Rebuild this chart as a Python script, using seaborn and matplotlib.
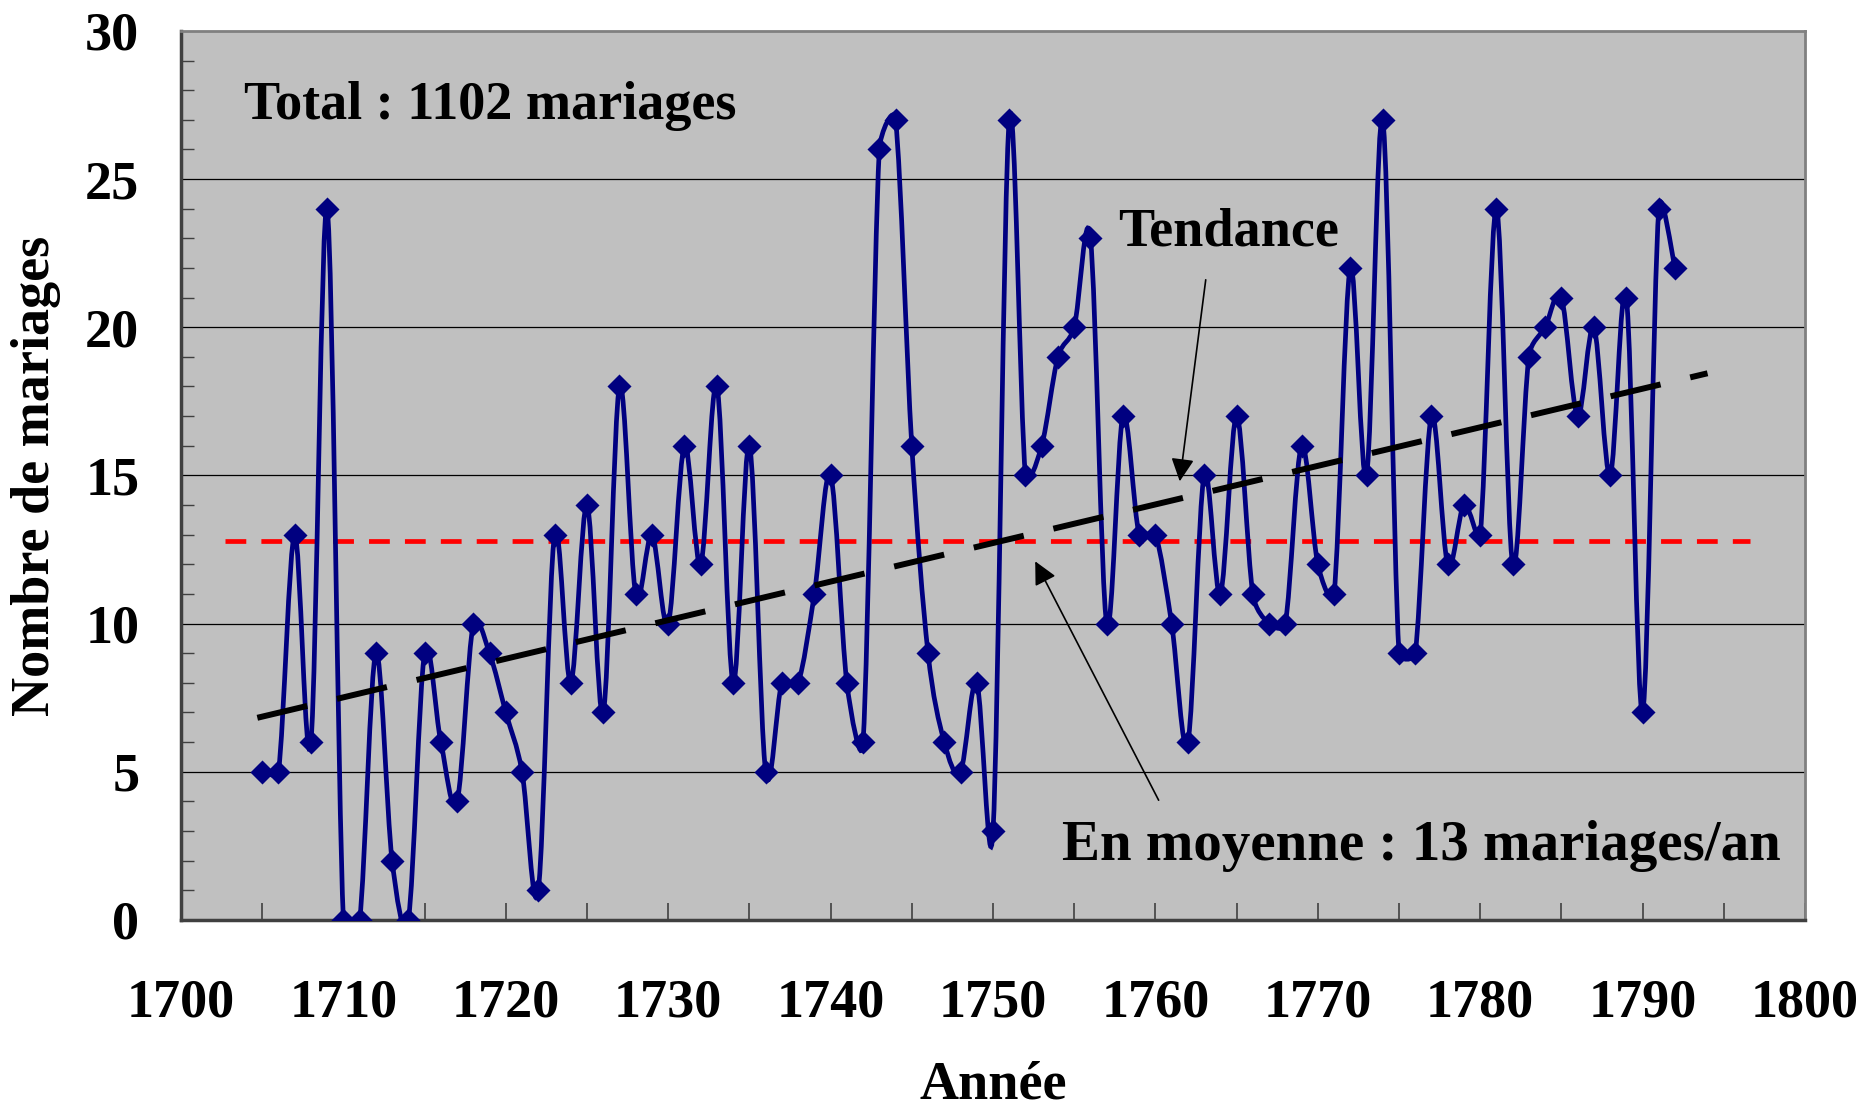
import numpy as np
import matplotlib
matplotlib.use('Agg')
import matplotlib.pyplot as plt
from matplotlib.path import Path
from matplotlib.patches import PathPatch
from matplotlib.ticker import MultipleLocator
import pandas as pd
import seaborn as sns

# nombre de mariages par an (1705-1792)
annees = list(range(1705, 1793))
mariages = [5, 5, 13, 6, 24, 0, 0, 9, 2, 0,
            9, 6, 4, 10, 9, 7, 5, 1, 13, 8,
            14, 7, 18, 11, 13, 10, 16, 12, 18, 8,
            16, 5, 8, 8, 11, 15, 8, 6, 26, 27,
            16, 9, 6, 5, 8, 3, 27, 15, 16, 19,
            20, 23, 10, 17, 13, 13, 10, 6, 15, 11,
            17, 11, 10, 10, 16, 12, 11, 22, 15, 27,
            9, 9, 17, 12, 14, 13, 24, 12, 19, 20,
            21, 17, 20, 15, 21, 7, 24, 22]
moyenne = 12.8
moyenne_debut, moyenne_fin = 1702.7, 1796.6
tendance_debut, tendance_fin = 1704.7, 1794.0

sns.set_style('ticks', {'axes.facecolor': '#C0C0C0', 'axes.edgecolor': '#808080'})
plt.rcParams['font.family'] = ['Liberation Serif', 'DejaVu Serif']
plt.rcParams['font.weight'] = 'bold'
plt.rcParams['text.color'] = 'black'
plt.rcParams['axes.labelcolor'] = 'black'
plt.rcParams['xtick.labelcolor'] = 'black'
plt.rcParams['ytick.labelcolor'] = 'black'

BLEU = '#000080'
FS = 39


def courbe_lissee(ax, x, y):
    # lissage facon Excel : bezier, poignees a 1/6 plafonnees a la moitie du segment (en pixels)
    pts = ax.transData.transform(np.column_stack([x, y]).astype(float))
    n = len(pts)
    verts = [pts[0]]
    codes = [Path.MOVETO]
    for i in range(n - 1):
        p0 = pts[max(i - 1, 0)]
        p1 = pts[i]
        p2 = pts[i + 1]
        p3 = pts[min(i + 2, n - 1)]
        seg = np.hypot(*(p2 - p1)) / 2
        t1 = (p2 - p0) / 6
        t2 = (p3 - p1) / 6
        if np.hypot(*t1) > seg:
            t1 = t1 * seg / np.hypot(*t1)
        if np.hypot(*t2) > seg:
            t2 = t2 * seg / np.hypot(*t2)
        verts += [p1 + t1, p2 - t2, p2]
        codes += [Path.CURVE4] * 3
    verts = ax.transData.inverted().transform(np.array(verts))
    return Path(verts, codes)


df = pd.DataFrame({'annee': annees, 'mariages': mariages})

fig = plt.figure(figsize=(18.66, 11.07), dpi=100)
ax = fig.add_axes([0.097, 0.169, 0.8703, 0.8031])
ax.set_xlim(1700, 1800)
ax.set_ylim(0, 30)

# grille horizontale
for v in range(5, 30, 5):
    ax.axhline(v, color='black', lw=0.9, zorder=1)

# moyenne
ax.plot([moyenne_debut, moyenne_fin], [moyenne, moyenne], color='#FF0000',
        lw=3.4, dashes=(4.4, 3.2), zorder=2)

# serie lissee + marqueurs
ax.add_patch(PathPatch(courbe_lissee(ax, df['annee'], df['mariages']),
                       facecolor='none', edgecolor=BLEU, lw=3.4, zorder=3))
sns.scatterplot(data=df, x='annee', y='mariages', marker='D', s=150,
                color=BLEU, edgecolor=BLEU, linewidth=0, zorder=4, ax=ax, legend=False)

# tendance lineaire
pente, origine = np.polyfit(df['annee'], df['mariages'], 1)
tx = np.array([tendance_debut, tendance_fin])
sns.lineplot(x=tx, y=pente * tx + origine, color='black', lw=4.3, ax=ax,
             dashes=False, zorder=5)
ax.lines[-1].set_dashes((8.6, 5.1))

# annotations
ax.text(1719.05, 27.45, 'Total : 1102 mariages', ha='center', va='center',
        fontsize=FS, fontweight='bold', zorder=6)
ax.text(1764.5, 23.2, 'Tendance', ha='center', va='center',
        fontsize=FS, fontweight='bold', zorder=6)
ax.text(1776.4, 2.5, 'En moyenne : 13 mariages/an', ha='center', va='center',
        fontsize=41, fontweight='bold', zorder=6)
fleche = dict(arrowstyle='-|>', color='black', lw=1.2, mutation_scale=35,
              shrinkA=0, shrinkB=0)
ax.annotate('', xy=(1761.5, 14.8), xytext=(1763.1, 21.6), arrowprops=fleche, zorder=6)
ax.annotate('', xy=(1752.6, 12.1), xytext=(1760.2, 4.04), arrowprops=fleche, zorder=6)

# axes
ax.xaxis.set_major_locator(MultipleLocator(10))
ax.xaxis.set_minor_locator(MultipleLocator(5))
ax.yaxis.set_major_locator(MultipleLocator(5))
ax.yaxis.set_minor_locator(MultipleLocator(1))
ax.tick_params(axis='x', which='both', direction='in', length=12, width=1.2,
               color='#404040', labelsize=FS, pad=42)
ax.tick_params(axis='y', which='both', direction='in', length=9, width=1.0,
               color='#404040', labelsize=FS, pad=30)
ax.tick_params(axis='y', which='major', length=0)
for lab in ax.get_xticklabels() + ax.get_yticklabels():
    lab.set_fontweight('bold')

for s in ['top', 'right']:
    ax.spines[s].set_color('#808080')
    ax.spines[s].set_linewidth(2.0)
for s in ['left', 'bottom']:
    ax.spines[s].set_color('#404040')
    ax.spines[s].set_linewidth(2.5)

ax.set_xlabel('Année', fontsize=FS, fontweight='bold', va='center')
ax.set_ylabel('Nombre de mariages', fontsize=FS, fontweight='bold', va='center')
ax.xaxis.set_label_coords(0.5, -0.186)
ax.yaxis.set_label_coords(-0.089, 0.5)

fig.savefig('out.png', dpi=100, facecolor='white')
